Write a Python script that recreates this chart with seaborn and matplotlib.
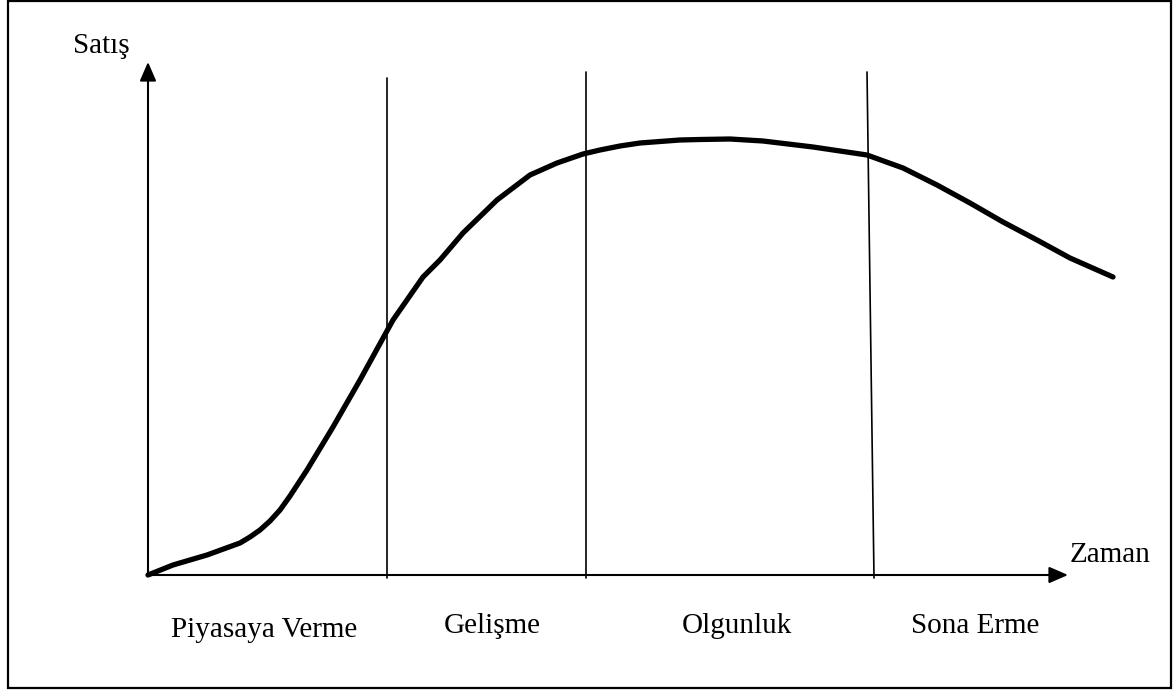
import matplotlib
matplotlib.use("Agg")
import matplotlib.pyplot as plt
from matplotlib.patches import Rectangle
import seaborn as sns
import pandas as pd

# Product life cycle: sales over time
time = [0.0, 2.5, 5.9, 9.2, 10.2, 11.2, 12.2, 13.2, 14.2, 15.9, 18.5, 21.2,
        24.5, 27.5, 29.2, 31.5, 34.9, 38.2, 40.9, 43.5, 45.2, 47.2, 49.2,
        53.2, 55.2, 58.2, 61.5, 66.5, 71.9, 75.5, 78.9, 82.2, 85.5, 88.9,
        92.2, 96.5]
sales = [0.0, 1.0, 2.0, 3.2, 3.8, 4.5, 5.4, 6.5, 7.9, 10.5, 14.8, 19.5,
         25.5, 29.8, 31.5, 34.2, 37.5, 40.0, 41.2, 42.1, 42.5, 42.9, 43.2,
         43.5, 43.55, 43.6, 43.4, 42.8, 42.0, 40.7, 39.0, 37.2, 35.3, 33.5,
         31.7, 29.8]

# Stage boundaries (bottom x, top x, top y)
boundary_bottom = [23.9, 43.8, 72.6]
boundary_top = [23.9, 43.8, 71.9]
boundary_height = [49.7, 50.3, 50.3]

stage_names = ["Piyasaya Verme", "Gelişme", "Olgunluk", "Sona Erme"]
stage_label_x = [11.6, 34.4, 58.9, 82.7]
stage_label_y = [-6.2, -5.8, -5.8, -5.8]

x_axis_label = "Zaman"
y_axis_label = "Satış"
x_axis_end = 92.0
y_axis_end = 51.3

sns.set_theme(style="white")
plt.rcParams["font.family"] = ["Liberation Serif", "DejaVu Serif"]
plt.rcParams["text.color"] = "black"

fig = plt.figure(figsize=(11.74, 6.93), dpi=100)
ax = fig.add_axes([0, 0, 1, 1])

# Outer frame
fig.patches.append(Rectangle((8 / 1174, 5 / 693), 1163 / 1174, 687 / 693,
                             transform=fig.transFigure, fill=False,
                             edgecolor="black", linewidth=1.6))

# Axes with arrowheads
arrow_style = "-|>,head_length=1.15,head_width=0.5"
ax.annotate("", xy=(x_axis_end, 0), xytext=(0, 0),
            arrowprops=dict(arrowstyle=arrow_style, color="black", lw=1.5,
                            shrinkA=0, shrinkB=0, mutation_scale=10))
ax.annotate("", xy=(0, y_axis_end), xytext=(0, 0),
            arrowprops=dict(arrowstyle=arrow_style, color="black", lw=1.5,
                            shrinkA=0, shrinkB=0, mutation_scale=10))

# Stage boundary lines
for xb, xt, yt in zip(boundary_bottom, boundary_top, boundary_height):
    ax.plot([xb, xt], [-0.3, yt], color="black", lw=1.2)

# Sales curve
df = pd.DataFrame({"time": time, "sales": sales})
sns.lineplot(data=df, x="time", y="sales", ax=ax, color="black", lw=3.8,
             sort=False, estimator=None, solid_joinstyle="round",
             solid_capstyle="round")
ax.set_xlim(-14.8, 102.6)
ax.set_ylim(-11.8, 57.5)
ax.axis("off")

# Text labels
fs = 21
for name, lx, ly in zip(stage_names, stage_label_x, stage_label_y):
    ax.text(lx, ly, name, ha="center", va="baseline", fontsize=fs,
            color="black")
ax.text(96.2, 1.3, x_axis_label, ha="center", va="baseline", fontsize=fs,
        color="black")
ax.text(-4.7, 52.2, y_axis_label, ha="center", va="baseline", fontsize=fs,
        color="black")

fig.savefig("out.png", dpi=100)
